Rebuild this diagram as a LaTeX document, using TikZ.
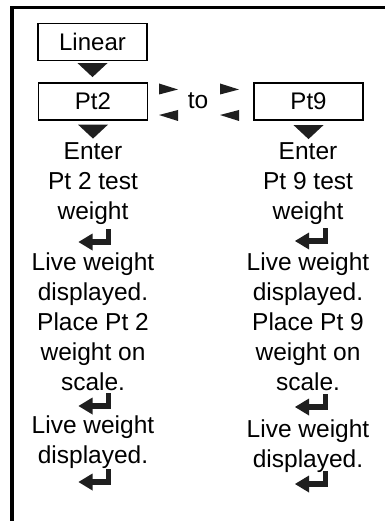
\documentclass[tikz,border=0pt]{standalone}
\usepackage{fontspec}
\setmainfont{Liberation Sans}

\begin{document}
\begin{tikzpicture}[
  x=1pt, y=-1pt,
  font=\fontsize{24.5}{30}\selectfont,
  bx/.style    ={draw=black, line width=1.2pt, inner sep=0pt, minimum width=109pt,
                 minimum height=37pt, font=\fontsize{24}{28}\selectfont},
  txt/.style   ={align=center, anchor=north, inner sep=0pt},
  downtri/.pic ={\fill[black!88] (-15,0) -- (15,0) -- (0,14) -- cycle;},
  nexttri/.pic ={\fill[black!88] (0,-5.5) -- (19,0.5) -- (0,5.5) -- cycle;},
  prevtri/.pic ={\fill[black!88] (19,-5.5) -- (0,-0.5) -- (19,5.5) -- cycle;},
  enterkey/.pic={\fill[black!88] (-2.5,-13) rectangle (2.5,3);
                 \fill[black!88] (2.5,-3) rectangle (-17,3);
                 \fill[black!88] (-16,-8.5) -- (-30,0) -- (-16,8.5) -- cycle;},
]
\useasboundingbox (0,0) rectangle (386,521);

% ---- frame ----
\draw[line width=3.5pt, line join=miter] (12,521) -- (12,7.5) -- (385,7.5);

% ---- menu boxes ----
\node[bx] (lin) at ( 92.5, 42.0) {Linear};
\node[bx] (pt2) at ( 93.0,101.5) {Pt2};
\node[bx] (pt9) at (308.5,101.5) {Pt9};
\node     (to)  at (198.0,101.0) {to};

\pic at ([yshift=-2pt]lin.south) {downtri};
\pic at ([yshift=-4pt]pt2.south) {downtri};
\pic at ([yshift=-4.5pt]pt9.south) {downtri};

% ---- scroll keys ----
\pic at (159, 89.0) {nexttri};
\pic at (159,115.5) {prevtri};
\pic at (220, 89.0) {nexttri};
\pic at (220,115.5) {prevtri};

% ---- Pt 2 column ----
\node[txt] (e2)  at ( 93,142.5) {Enter\\Pt 2 test\\weight};
\node[txt] (l2)  at ( 93,252.5) {Live weight\\displayed.\\Place Pt 2\\weight on\\scale.};
\node[txt] (d2)  at ( 93,415.5) {Live weight\\displayed.};
\pic at (108.5,242) {enterkey};
\pic at (108.5,406) {enterkey};
\pic at (108.5,482) {enterkey};

% ---- Pt 9 column ----
\node[txt] (e9)  at (308,142.5) {Enter\\Pt 9 test\\weight};
\node[txt] (l9)  at (308,252.5) {Live weight\\displayed.\\Place Pt 9\\weight on\\scale.};
\node[txt] (d9)  at (308,419.5) {Live weight\\displayed.};
\pic at (325,241) {enterkey};
\pic at (325,407) {enterkey};
\pic at (325,484) {enterkey};
\end{tikzpicture}
\end{document}
